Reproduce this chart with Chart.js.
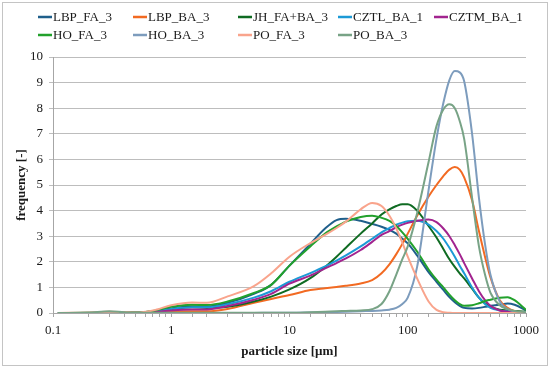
<!DOCTYPE html>
<html>
<head>
<meta charset="utf-8">
<script src="https://cdn.jsdelivr.net/npm/chart.js@4.4.1/dist/chart.umd.min.js"></script>
<style>
  body { margin: 0; background: #fff; }
  canvas { display: block; }
</style>
</head>
<body>
<canvas id="psd" width="550" height="368"></canvas>
<script>
// particle size classes [um]
const sizes = [0.11, 0.2, 0.3, 0.4, 0.5, 0.7, 1, 1.5, 2, 3, 5, 7, 10, 15, 20, 25, 30, 40, 50, 60,
  70, 80, 90, 100, 120, 150, 175, 200, 225, 250, 275, 300, 350, 400, 450, 500, 600, 700, 800, 1000];

// frequency [-] per sample
const lbpFa = [0, 0, 0.01, 0.01, 0.02, 0.06, 0.18, 0.26, 0.25, 0.4, 0.75, 1.1, 1.85, 2.7, 3.3, 3.63, 3.68, 3.6, 3.48, 3.37,
  3.25, 3.1, 2.9, 2.72, 2.25, 1.6, 1.22, 0.9, 0.62, 0.42, 0.28, 0.2, 0.18, 0.2, 0.24, 0.28, 0.33, 0.37, 0.32, 0.1];
const lbpBa = [0, 0, 0.01, 0.01, 0.01, 0.02, 0.05, 0.07, 0.07, 0.16, 0.4, 0.55, 0.7, 0.9, 0.97, 1.02, 1.06, 1.15, 1.28, 1.55,
  1.9, 2.3, 2.7, 3.1, 3.8, 4.55, 5.0, 5.35, 5.6, 5.7, 5.6, 5.3, 4.4, 3.2, 2.2, 1.4, 0.5, 0.2, 0.08, 0.03];
const jhFaBa = [0, 0, 0.01, 0.01, 0.02, 0.06, 0.15, 0.22, 0.2, 0.24, 0.45, 0.64, 0.92, 1.36, 1.8, 2.2, 2.55, 3.1, 3.5, 3.85,
  4.05, 4.18, 4.25, 4.25, 4.0, 3.4, 2.95, 2.5, 2.1, 1.8, 1.55, 1.35, 0.95, 0.6, 0.38, 0.25, 0.13, 0.1, 0.08, 0.05];
const cztlBa = [0, 0, 0.01, 0.01, 0.02, 0.05, 0.16, 0.22, 0.22, 0.34, 0.6, 0.85, 1.22, 1.56, 1.82, 2.05, 2.25, 2.6, 2.9, 3.15,
  3.32, 3.45, 3.53, 3.58, 3.6, 3.45, 3.2, 2.9, 2.55, 2.2, 1.85, 1.55, 1.0, 0.6, 0.35, 0.2, 0.1, 0.06, 0.04, 0.02];
const cztmBa = [0, 0, 0.01, 0.01, 0.01, 0.03, 0.1, 0.14, 0.14, 0.27, 0.52, 0.75, 1.15, 1.46, 1.74, 1.95, 2.13, 2.46, 2.78, 3.05,
  3.2, 3.35, 3.45, 3.52, 3.6, 3.65, 3.55, 3.3, 3.0, 2.65, 2.3, 1.95, 1.35, 0.85, 0.5, 0.28, 0.1, 0.05, 0.03, 0.02];
const hoFa = [0, 0.01, 0.02, 0.02, 0.02, 0.08, 0.24, 0.32, 0.31, 0.45, 0.78, 1.1, 1.85, 2.6, 3.1, 3.38, 3.57, 3.75, 3.8, 3.72,
  3.6, 3.4, 3.15, 2.9, 2.4, 1.7, 1.3, 1.0, 0.72, 0.5, 0.35, 0.28, 0.3, 0.38, 0.47, 0.52, 0.6, 0.62, 0.5, 0.12];
const hoBa = [0, 0, 0, 0, 0, 0, 0, 0, 0, 0, 0, 0.01, 0.01, 0.02, 0.03, 0.04, 0.05, 0.07, 0.08, 0.1,
  0.13, 0.2, 0.35, 0.6, 1.8, 4.8, 6.8, 8.2, 9.1, 9.45, 9.4, 9.05, 7.0, 4.5, 2.7, 1.5, 0.45, 0.15, 0.06, 0.02];
const poFa = [0, 0.02, 0.05, 0.03, 0.02, 0.1, 0.3, 0.41, 0.4, 0.65, 1.05, 1.55, 2.2, 2.73, 3.05, 3.32, 3.57, 4.05, 4.3, 4.18,
  3.8, 3.3, 2.75, 2.2, 1.35, 0.45, 0.12, 0.03, 0.01, 0, 0, 0, 0, 0, 0, 0, 0, 0, 0, 0];
const poBa = [0, 0.02, 0.07, 0.03, 0.01, 0.01, 0.01, 0.01, 0.01, 0.01, 0.01, 0.01, 0.01, 0.03, 0.05, 0.07, 0.08, 0.1, 0.15, 0.35,
  0.85, 1.5, 2.1, 2.6, 3.9, 5.9, 7.3, 7.95, 8.15, 8.0, 7.5, 6.8, 4.5, 2.6, 1.5, 0.8, 0.3, 0.15, 0.08, 0.04];

const seriesNames = ["LBP_FA_3", "LBP_BA_3", "JH_FA+BA_3", "CZTL_BA_1", "CZTM_BA_1", "HO_FA_3", "HO_BA_3", "PO_FA_3", "PO_BA_3"];
const seriesValues = [lbpFa, lbpBa, jhFaBa, cztlBa, cztmBa, hoFa, hoBa, poFa, poBa];
const seriesColors = ["#1f5f8b", "#f26a22", "#0f6b22", "#1c9ad6", "#a2248f", "#22a12c", "#7d9cbd", "#f9a48c", "#78a386"];

const serif = "'Liberation Serif', 'DejaVu Serif', serif";

/* frame round the figure */
const frame = {
  id: "frame",
  beforeDraw(chart) {
    const ctx = chart.ctx;
    ctx.save();
    ctx.fillStyle = "#fff";
    ctx.fillRect(0, 0, chart.width, chart.height);
    ctx.strokeStyle = "#c4c4c4";
    ctx.lineWidth = 1;
    ctx.strokeRect(2.5, 2.5, chart.width - 5, chart.height - 5);
    ctx.restore();
  }
};

/* legend in a 5 column grid like the Excel one */
const gridLegend = {
  id: "gridLegend",
  afterDraw(chart) {
    const ctx = chart.ctx;
    const colX = [38, 133, 238, 338, 434];
    const rowY = [17, 35];
    ctx.save();
    ctx.font = "13px " + serif;
    ctx.textBaseline = "middle";
    chart.data.datasets.forEach((ds, i) => {
      const x = colX[i % 5], y = rowY[Math.floor(i / 5)];
      ctx.strokeStyle = ds.borderColor;
      ctx.lineWidth = 2.5;
      ctx.beginPath();
      ctx.moveTo(x, y);
      ctx.lineTo(x + 14, y);
      ctx.stroke();
      ctx.fillStyle = "#1a1a1a";
      ctx.fillText(ds.label, x + 15, y + 1);
    });
    ctx.restore();
  }
};

const datasets = seriesNames.map((name, i) => ({
  label: name,
  data: sizes.map((x, j) => ({ x, y: seriesValues[i][j] })),
  borderColor: seriesColors[i],
  backgroundColor: seriesColors[i],
  borderWidth: 2,
  pointRadius: 0,
  cubicInterpolationMode: "monotone",
  fill: false,
  order: seriesNames.length - 1 - i
}));

new Chart(document.getElementById("psd"), {
  type: "line",
  data: { datasets },
  plugins: [frame, gridLegend],
  options: {
    responsive: false,
    animation: false,
    events: [],
    layout: { padding: { top: 57, right: 24, bottom: 0, left: 0 } },
    plugins: { legend: { display: false }, tooltip: { enabled: false } },
    scales: {
      x: {
        type: "logarithmic",
        min: 0.1,
        max: 1000,
        afterFit: s => { s.height = 55; },
        border: { display: true, color: "#a6a6a6" },
        grid: { drawOnChartArea: false, drawTicks: true, tickLength: 4, color: "#a6a6a6" },
        ticks: {
          autoSkip: false,
          maxRotation: 0,
          padding: 6,
          color: "#1a1a1a",
          font: { family: serif, size: 13 },
          callback: v => {
            const l = Math.log10(v);
            return Math.abs(l - Math.round(l)) < 1e-6 ? String(Number(v.toPrecision(3))) : "";
          }
        },
        title: {
          display: true,
          text: "particle size [\u00b5m]",
          color: "#1a1a1a",
          font: { family: serif, size: 13, weight: "bold" },
          padding: { top: 0, bottom: 9 }
        }
      },
      y: {
        min: 0,
        max: 10,
        afterFit: s => { s.width = 53; },
        border: { display: true, color: "#a6a6a6" },
        grid: { color: "#bdbdbd", tickLength: 4, drawTicks: true },
        ticks: {
          stepSize: 1,
          padding: 6,
          color: "#1a1a1a",
          font: { family: serif, size: 13 }
        },
        title: {
          display: true,
          text: "frequency [-]",
          color: "#1a1a1a",
          font: { family: serif, size: 13, weight: "bold" },
          padding: { top: 14, bottom: 0 }
        }
      }
    }
  }
});
</script>
</body>
</html>
